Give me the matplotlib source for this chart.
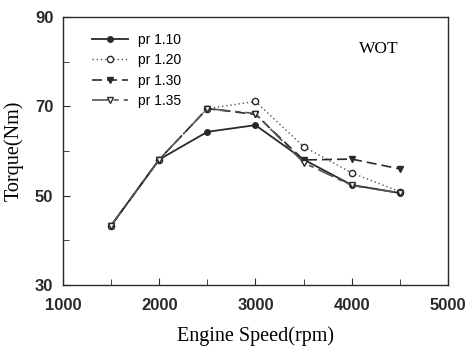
import matplotlib.pyplot as plt
from matplotlib.ticker import FixedLocator, MultipleLocator

# Данные графика
speed = [1500, 2000, 2500, 3000, 3500, 4000, 4500]
torque_110 = [43.3, 58.1, 64.3, 65.8, 58.1, 52.4, 50.6]
torque_120 = [43.3, 58.1, 69.5, 71.1, 61.0, 55.1, 50.9]
torque_130 = [43.3, 58.1, 69.5, 68.2, 58.0, 58.2, 56.0]
torque_135 = [43.3, 58.1, 69.5, 68.4, 57.4, 52.3, 50.6]
labels = ["pr 1.10", "pr 1.20", "pr 1.30", "pr 1.35"]
y_major = [30, 50, 70, 90]
y_minor = [40, 60, 80]

fig = plt.figure(figsize=(4.7, 3.48), dpi=100)
ax = fig.add_axes([0.134, 0.181, 0.819, 0.77])

c = '#2a2a2a'
ax.plot(speed, torque_110, color=c, lw=1.3, marker='o', ms=4, mfc=c, label=labels[0])
ax.plot(speed, torque_120, color='#555555', lw=1.0, ls=(0, (1, 2)), marker='o', ms=4.5,
        mfc='white', mec=c, label=labels[1])
ax.plot(speed, torque_130, color=c, lw=1.2, ls=(0, (6, 3)), marker='v', ms=4.5, mfc=c, label=labels[2])
ax.plot(speed, torque_135, color='#555555', lw=1.2, ls=(0, (10, 3, 3, 3)), marker='v', ms=4.5,
        mfc='white', mec=c, label=labels[3])

ax.set_xlim(1000, 5000)
ax.set_ylim(30, 90)
ax.xaxis.set_major_locator(MultipleLocator(1000))
ax.xaxis.set_minor_locator(MultipleLocator(500))
ax.yaxis.set_major_locator(FixedLocator(y_major))
ax.yaxis.set_minor_locator(FixedLocator(y_minor))
ax.tick_params(which='both', direction='in', top=False, right=False, colors=c)
ax.tick_params(which='major', length=5, labelsize=12)
ax.tick_params(axis='y', which='major', pad=7)
ax.tick_params(axis='x', which='major', pad=9)
ax.tick_params(which='minor', length=4)
for lab in ax.get_xticklabels() + ax.get_yticklabels():
    lab.set_fontweight('bold')
    lab.set_family('Liberation Sans')
for s in ax.spines.values():
    s.set_color(c)
    s.set_linewidth(1.0)

ax.set_xlabel("Engine Speed(rpm)", family='Liberation Serif', fontsize=14.5, labelpad=10)
ax.set_ylabel("Torque(Nm)", family='Liberation Serif', fontsize=14.5, labelpad=8)
ax.text(0.82, 0.88, "WOT", transform=ax.transAxes, family='Liberation Serif', fontsize=12.5,
        ha='center', va='center')

leg = ax.legend(loc='upper left', bbox_to_anchor=(0.06, 0.963), frameon=False,
                prop={'family': 'Liberation Sans', 'size': 10},
                handlelength=2.6, labelspacing=0.47, borderaxespad=0, handletextpad=0.72)

fig.savefig("out.png", dpi=100)
